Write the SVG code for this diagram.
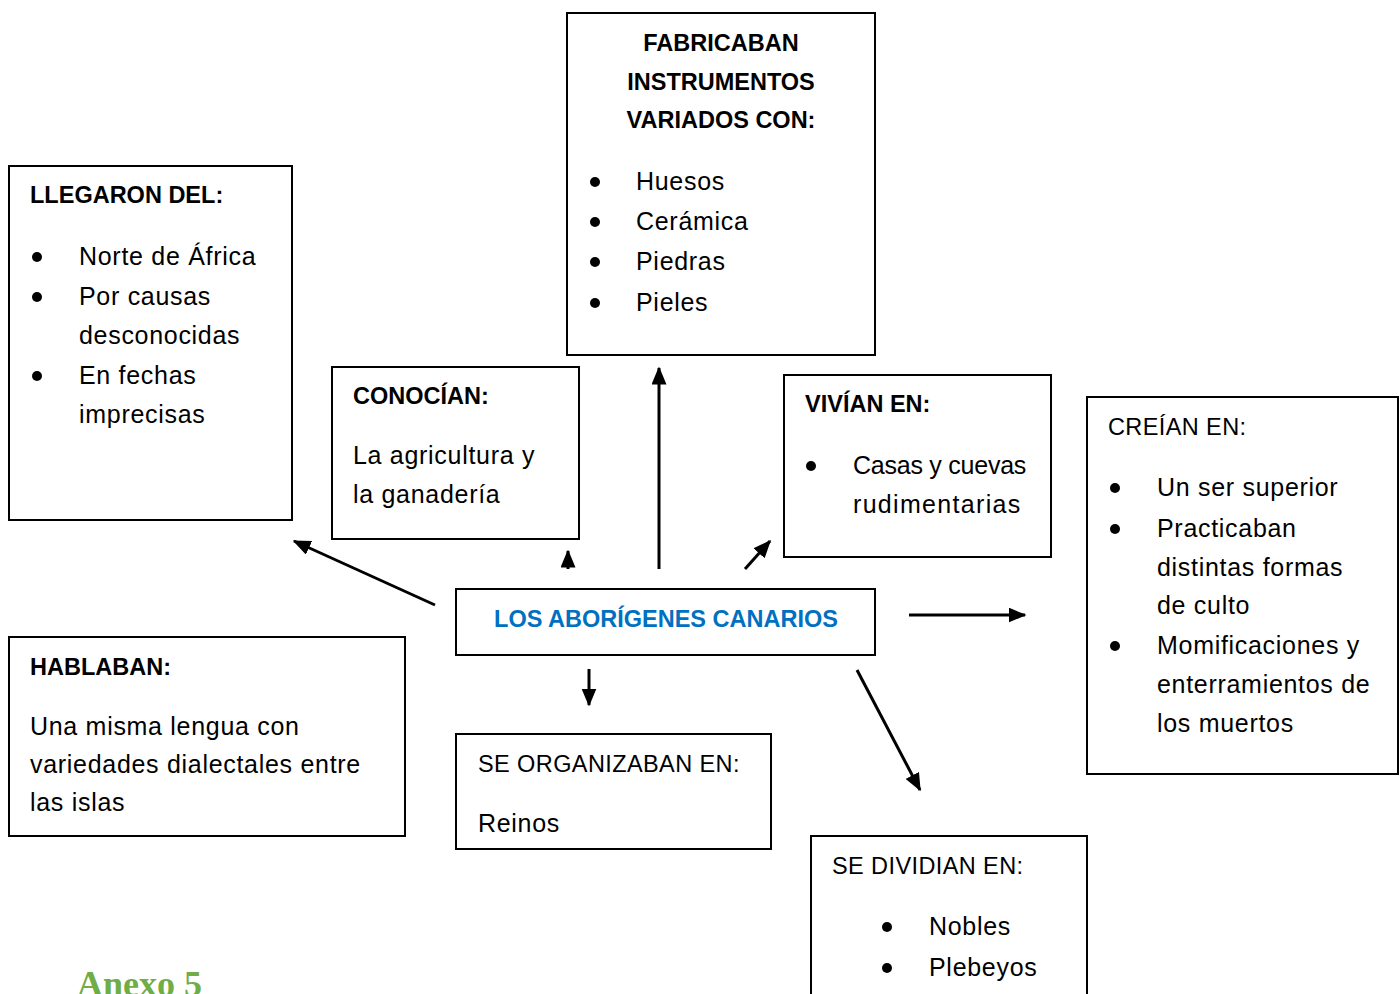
<svg xmlns="http://www.w3.org/2000/svg" width="1400" height="994" viewBox="0 0 1400 994">
<defs>
<marker id="ah" markerWidth="6" markerHeight="5" refX="5.5" refY="2.5" orient="auto" markerUnits="strokeWidth">
<path d="M0,0 L6,2.5 L0,5 Z" fill="#000"/>
</marker>
<style>
.box{fill:#fff;stroke:#000;stroke-width:2}
text{font-family:"Liberation Sans",Arial,sans-serif;font-size:25px;letter-spacing:0.7px;fill:#000}
.b{font-weight:bold;font-size:23.5px;letter-spacing:0}
.u{font-size:23.5px;letter-spacing:0.4px}
.c{text-anchor:middle}
.blt{fill:#000}
.con{stroke:#000;stroke-width:3;fill:none;marker-end:url(#ah)}
</style>
</defs>
<rect width="1400" height="994" fill="#fff"/>

<g id="fabricaban">
<rect class="box" x="567" y="13" width="308" height="342"/>
<text class="b c" x="721" y="51">FABRICABAN</text>
<text class="b c" x="721" y="90">INSTRUMENTOS</text>
<text class="b c" x="721" y="128">VARIADOS CON:</text>
<circle class="blt" cx="595" cy="182" r="5"/><text x="636" y="190">Huesos</text>
<circle class="blt" cx="595" cy="222" r="5"/><text x="636" y="230">Cerámica</text>
<circle class="blt" cx="595" cy="262" r="5"/><text x="636" y="270">Piedras</text>
<circle class="blt" cx="595" cy="303" r="5"/><text x="636" y="311">Pieles</text>
</g>

<g id="llegaron">
<rect class="box" x="9" y="166" width="283" height="354"/>
<text class="b" x="30" y="203">LLEGARON DEL:</text>
<circle class="blt" cx="37" cy="257" r="5"/><text x="79" y="265">Norte de África</text>
<circle class="blt" cx="37" cy="297" r="5"/><text x="79" y="305">Por causas</text>
<text x="79" y="344">desconocidas</text>
<circle class="blt" cx="37" cy="376" r="5"/><text x="79" y="384">En fechas</text>
<text x="79" y="423">imprecisas</text>
</g>

<g id="conocian">
<rect class="box" x="332" y="367" width="247" height="172"/>
<text class="b" x="353" y="404">CONOCÍAN:</text>
<text x="353" y="464">La agricultura y</text>
<text x="353" y="503">la ganadería</text>
</g>

<g id="vivian">
<rect class="box" x="784" y="375" width="267" height="182"/>
<text class="b" x="805" y="412">VIVÍAN EN:</text>
<circle class="blt" cx="811" cy="466" r="5"/><text x="853" y="474" textLength="174" lengthAdjust="spacing">Casas y cuevas</text>
<text x="853" y="513" textLength="168" lengthAdjust="spacing">rudimentarias</text>
</g>

<g id="creian">
<rect class="box" x="1087" y="397" width="311" height="377"/>
<text class="u" x="1108" y="435">CREÍAN EN:</text>
<circle class="blt" cx="1115" cy="488" r="5"/><text x="1157" y="496">Un ser superior</text>
<circle class="blt" cx="1115" cy="529" r="5"/><text x="1157" y="537">Practicaban</text>
<text x="1157" y="576">distintas formas</text>
<text x="1157" y="614">de culto</text>
<circle class="blt" cx="1115" cy="646" r="5"/><text x="1157" y="654">Momificaciones y</text>
<text x="1157" y="693">enterramientos de</text>
<text x="1157" y="732">los muertos</text>
</g>

<g id="central">
<rect class="box" x="456" y="589" width="419" height="66"/>
<text class="b c" x="666" y="627" style="fill:#0070C0">LOS ABORÍGENES CANARIOS</text>
</g>

<g id="hablaban">
<rect class="box" x="9" y="637" width="396" height="199"/>
<text class="b" x="30" y="675">HABLABAN:</text>
<text x="30" y="735">Una misma lengua con</text>
<text x="30" y="773">variedades dialectales entre</text>
<text x="30" y="811">las islas</text>
</g>

<g id="organizaban">
<rect class="box" x="456" y="734" width="315" height="115"/>
<text class="u" x="478" y="772">SE ORGANIZABAN EN:</text>
<text x="478" y="832">Reinos</text>
</g>

<g id="dividian">
<rect class="box" x="811" y="836" width="276" height="170"/>
<text class="u" x="832" y="874">SE DIVIDIAN EN:</text>
<circle class="blt" cx="887" cy="927" r="5"/><text x="929" y="935">Nobles</text>
<circle class="blt" cx="887" cy="968" r="5"/><text x="929" y="976">Plebeyos</text>
</g>

<g id="anexo">
<text x="77" y="996" style="font-family:'Liberation Serif','Times New Roman',serif;font-weight:bold;font-size:36px;letter-spacing:0;fill:#70AD47">Anexo 5</text>
</g>

<g id="connectors">
<line class="con" x1="435" y1="605" x2="294" y2="541"/>
<line class="con" x1="568" y1="569" x2="568" y2="551"/>
<line class="con" x1="659" y1="569" x2="659" y2="368"/>
<line class="con" x1="745" y1="569" x2="770" y2="541"/>
<line class="con" x1="909" y1="615" x2="1025" y2="615"/>
<line class="con" x1="857" y1="670" x2="920" y2="790"/>
<line class="con" x1="589" y1="669" x2="589" y2="705"/>
</g>
</svg>
